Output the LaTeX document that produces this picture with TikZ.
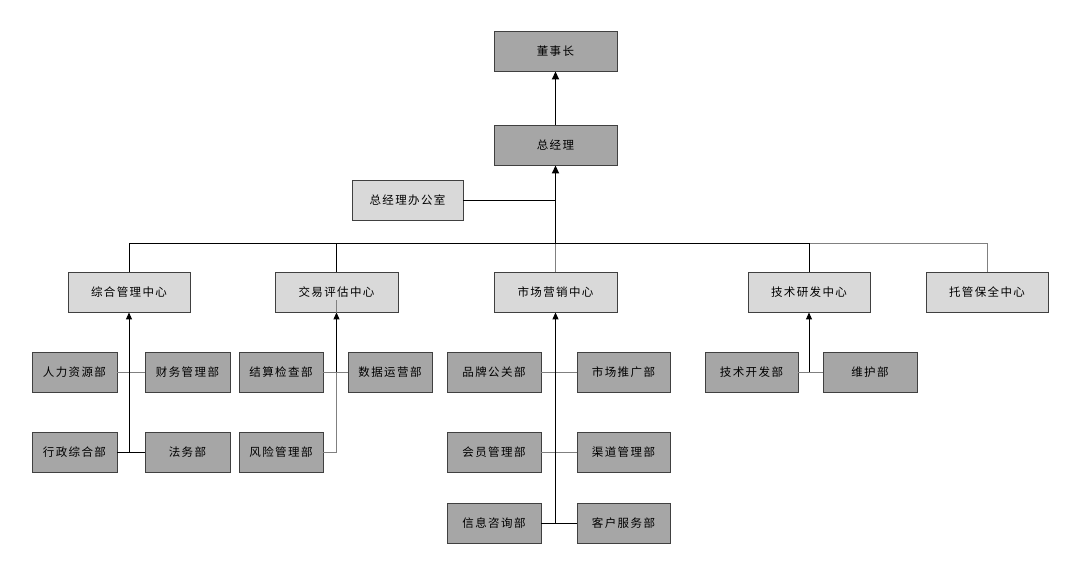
\documentclass[tikz,border=0pt]{standalone}
\usepackage{fontspec}
\newfontfamily\cjk[LetterSpace=12]{Noto Sans CJK SC}
\usetikzlibrary{arrows.meta}
\definecolor{darkbox}{HTML}{A6A6A6}
\definecolor{lightbox}{HTML}{D9D9D9}
\definecolor{boxline}{HTML}{404040}
\begin{document}
\begin{tikzpicture}[x=1pt,y=-1pt,
  base/.style={draw=boxline,line width=0.9pt,rectangle,minimum height=40pt,inner sep=0pt,font=\cjk\fontsize{11.5}{12}\selectfont},
  darkb/.style={base,fill=darkbox},
  lightb/.style={base,fill=lightbox},
  conn/.style={draw=black,line width=0.8pt},
  gconn/.style={draw=gray,line width=1pt},
  arr/.style={draw=black,line width=1pt,-{Triangle[width=6pt,length=7pt]}},
  tarr/.style={draw=black,line width=1.8pt,-{Triangle[width=7pt,length=8pt]}}]
\useasboundingbox (0,0) rectangle (1084,581);
\fill[white] (0,0) rectangle (1084,581);
% top
\node[darkb,minimum width=123pt] (dsz) at (555.5,51) {董事长};
\node[darkb,minimum width=123pt] (zjl) at (555.5,145) {总经理};
\node[lightb,minimum width=111pt] (off) at (407.5,200) {总经理办公室};
% centers
\node[lightb,minimum width=122pt] (zh) at (129,292) {综合管理中心};
\node[lightb,minimum width=123pt] (jy) at (336.5,292) {交易评估中心};
\node[lightb,minimum width=123pt] (sc) at (555.5,292) {市场营销中心};
\node[lightb,minimum width=122pt] (yf) at (809,292) {技术研发中心};
\node[lightb,minimum width=122pt] (tg) at (987,292) {托管保全中心};
% level 3
\node[darkb,minimum width=85pt] (rl) at (74.5,372) {人力资源部};
\node[darkb,minimum width=85pt] (cw) at (187.5,372) {财务管理部};
\node[darkb,minimum width=85pt] (xz) at (74.5,452) {行政综合部};
\node[darkb,minimum width=85pt] (fw) at (187.5,452) {法务部};
\node[darkb,minimum width=84pt] (jsjc) at (281,372) {结算检查部};
\node[darkb,minimum width=84pt] (sjyy) at (390,372) {数据运营部};
\node[darkb,minimum width=84pt] (fx) at (281,452) {风险管理部};
\node[darkb,minimum width=94pt] (pp) at (494,372) {品牌公关部};
\node[darkb,minimum width=93pt] (tgb) at (623.5,372) {市场推广部};
\node[darkb,minimum width=94pt] (hy) at (494,452) {会员管理部};
\node[darkb,minimum width=93pt] (qd) at (623.5,452) {渠道管理部};
\node[darkb,minimum width=94pt] (xx) at (494,523) {信息咨询部};
\node[darkb,minimum width=93pt] (kf) at (623.5,523) {客户服务部};
\node[darkb,minimum width=93pt] (jskf) at (751.5,372) {技术开发部};
\node[darkb,minimum width=94pt] (wh) at (870,372) {维护部};
% top connectors
\coordinate (bus) at (555.5,243);
\draw[tarr] (zjl.north) -- (dsz.south);
\draw[gconn] (sc.north) -- (bus);
\draw[tarr] (bus) -- (zjl.south);
\draw[conn] (off.east) -- (off.east -| bus);
\draw[conn] (zh.north) |- (bus);
\draw[gconn] (bus) -| (tg.north);
\draw[conn] (bus) -| (yf.north);
\draw[conn] (jy.north) -- (jy.north |- bus);
% 综合管理中心
\draw[gconn] (rl.east) -- (cw.west);
\draw[conn] (xz.east) -- (fw.west);
\draw[arr] (xz.east -| zh.south) -- (zh.south);
% 交易评估中心
\draw[gconn] (jsjc.east) -- (sjyy.west);
\draw[gconn] (fx.east) -| ([yshift=12pt]jy.south);
\draw[arr] (jsjc.east -| jy.south) -- (jy.south);
% 市场营销中心
\draw[gconn] (pp.east) -- (tgb.west);
\draw[gconn] (hy.east) -- (qd.west);
\draw[conn] (xx.east) -- (kf.west);
\draw[arr] (xx.east -| sc.south) -- (sc.south);
% 技术研发中心
\draw[gconn] (jskf.east) -- (wh.west);
\draw[arr] (jskf.east -| yf.south) -- (yf.south);
\end{tikzpicture}
\end{document}
